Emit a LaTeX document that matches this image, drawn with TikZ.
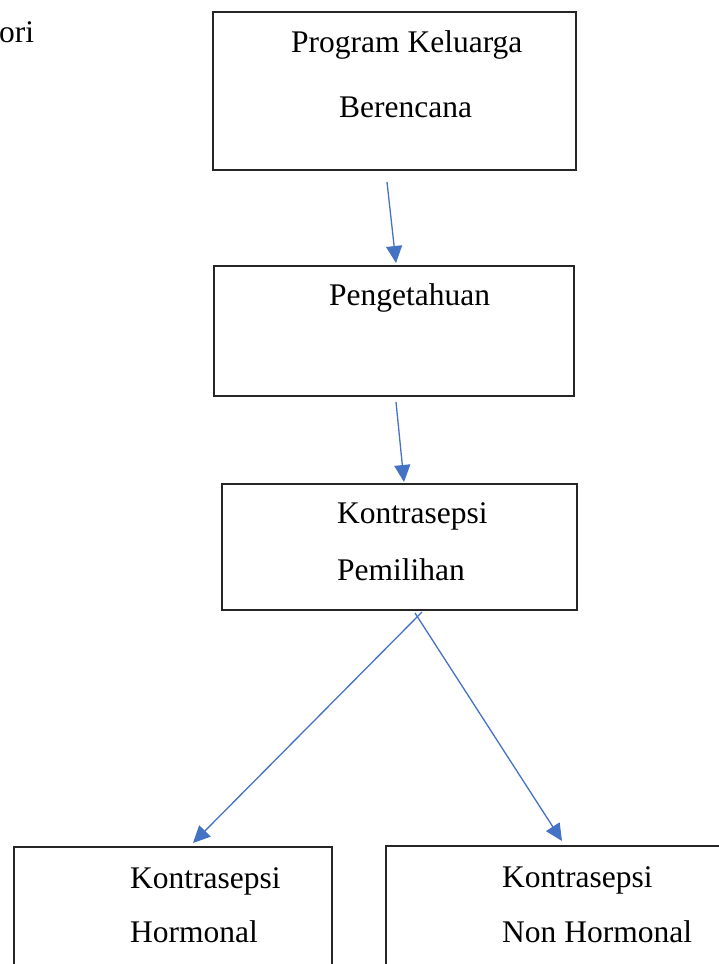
\documentclass[tikz,border=0pt]{standalone}
\usepackage{fontspec}
\setmainfont{Liberation Serif}
\usepackage{tikz}
\usetikzlibrary{arrows.meta}
\definecolor{arrowblue}{HTML}{4472C4}

\begin{document}
\begin{tikzpicture}[x=1pt, y=-1pt,
		box/.style={draw=black!85, line width=1.4pt, inner sep=0pt, outer sep=0pt},
		txt/.style={anchor=base west, inner sep=0pt, font=\fontsize{31.5}{38}\selectfont},
		flow/.style={draw=arrowblue, line width=1.3pt, -{Triangle[length=17pt, width=16pt]}}]
			\useasboundingbox (0, 0) rectangle (719, 964);
			\node[box, minimum width=363pt, minimum height=158pt] (program) at (394.5, 91) {};
			\node[box, minimum width=360pt, minimum height=130pt] (tahu) at (394, 331) {};
			\node[box, minimum width=355pt, minimum height=126pt] (pilih) at (399.5, 547) {};
			\node[box, minimum width=318pt, minimum height=133pt] (hormon) at (173, 913.5) {};
			\node[box, minimum width=354pt, minimum height=134pt] (nonhormon) at (563, 913) {};
			\node[txt] (teori) at (-1, 42) {ori};
			\node[txt] (t1a) at (291, 52) {Program Keluarga};
			\node[txt] (t1b) at (339, 117) {Berencana};
			\node[txt] (t2) at (329, 305) {Pengetahuan};
			\node[txt] (t3a) at (337, 523) {Kontrasepsi};
			\node[txt] (t3b) at (337, 580) {Pemilihan};
			\node[txt] (t4a) at (130, 888) {Kontrasepsi};
			\node[txt] (t4b) at (130, 942) {Hormonal};
			\node[txt] (t5a) at (502, 887) {Kontrasepsi};
			\node[txt] (t5b) at (502, 942) {Non Hormonal};
			\draw[flow] ([xshift=-7.5pt, yshift=-12pt]program.south) -- ([xshift=2pt, yshift=3pt]tahu.north);
			\draw[flow] ([xshift=2pt, yshift=-6pt]tahu.south) -- ([xshift=4.5pt, yshift=2pt]pilih.north);
			\draw[flow] ([xshift=22.5pt, yshift=-2pt]pilih.south) -- ([xshift=20pt, yshift=4pt]hormon.north);
			\draw[flow] ([xshift=15.5pt, yshift=-3pt]pilih.south) -- ([xshift=-1pt, yshift=5pt]nonhormon.north);
		\end{tikzpicture}
\end{document}
